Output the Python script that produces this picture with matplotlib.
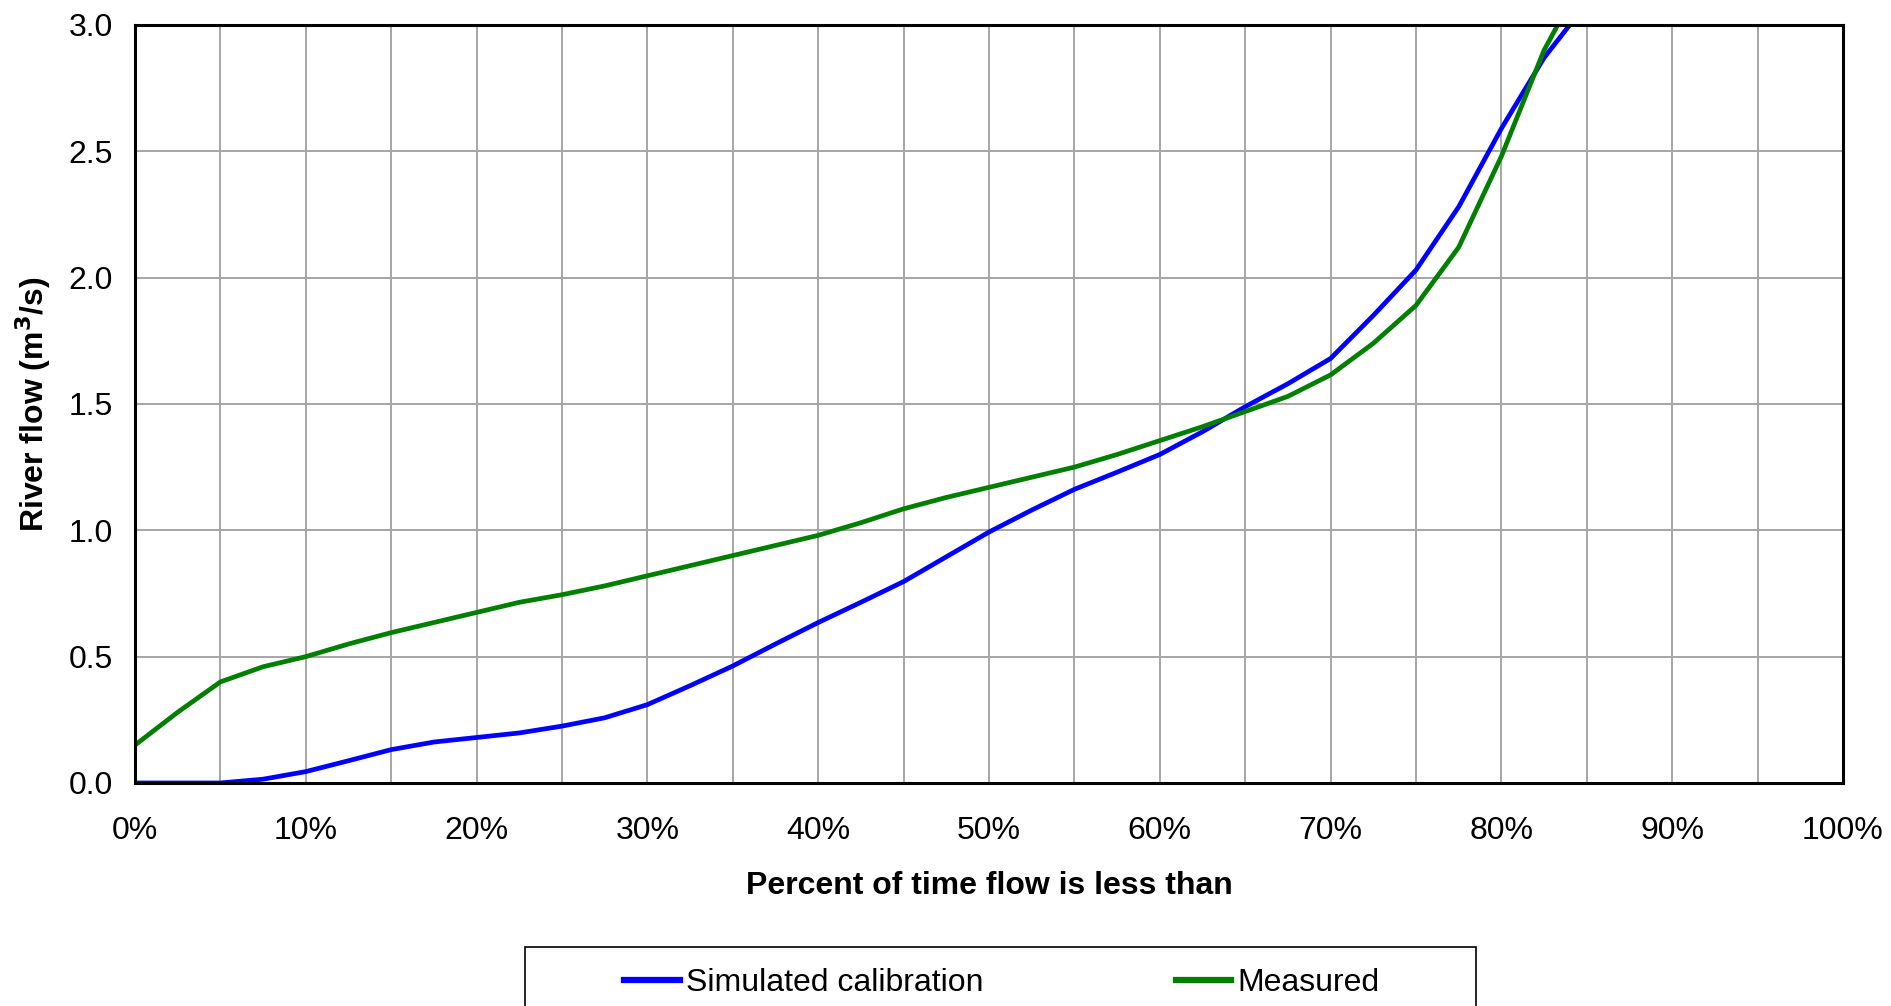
import matplotlib.pyplot as plt
from matplotlib.patches import Rectangle
from matplotlib.ticker import MultipleLocator, FuncFormatter

plt.rcParams['font.family'] = ['Liberation Sans', 'DejaVu Sans']

# flow duration curves (percent of time, river flow m3/s)
pct = [0, 2.5, 5, 7.5, 10, 12.5, 15, 17.5, 20, 22.5, 25, 27.5, 30, 32.5, 35, 37.5, 40,
       42.5, 45, 47.5, 50, 52.5, 55, 57.5, 60, 62.5, 65, 67.5, 70, 72.5, 75, 77.5, 80, 82.5]
sim = [0, 0, 0, 0.015, 0.045, 0.088, 0.132, 0.162, 0.18, 0.198, 0.225, 0.258, 0.31, 0.385,
       0.463, 0.55, 0.635, 0.715, 0.797, 0.895, 0.993, 1.08, 1.162, 1.23, 1.30, 1.39, 1.489,
       1.58, 1.68, 1.85, 2.03, 2.28, 2.59, 2.87]
meas = [0.15, 0.28, 0.40, 0.46, 0.50, 0.55, 0.595, 0.635, 0.675, 0.715, 0.745, 0.78, 0.82,
        0.86, 0.90, 0.94, 0.98, 1.03, 1.085, 1.13, 1.17, 1.21, 1.25, 1.30, 1.355, 1.41, 1.47,
        1.53, 1.615, 1.74, 1.89, 2.12, 2.48, 2.90]
# tails running off the top of the chart
sim_tail_x = [84, 85]
sim_tail_y = [3.0, 3.15]
meas_tail_x = [83.3, 84]
meas_tail_y = [3.0, 3.12]

fig = plt.figure(figsize=(18.91, 10.06), dpi=100)
ax = fig.add_axes([0.0714, 0.2217, 0.9032, 0.7535])

l1, = ax.plot(pct + sim_tail_x, sim + sim_tail_y, color='#0000ff', lw=3.4,
              label='Simulated calibration')
l2, = ax.plot(pct + meas_tail_x, meas + meas_tail_y, color='#007f00', lw=3.4,
              label='Measured')

ax.set_xlim(0, 100)
ax.set_ylim(0, 3.0)
ax.xaxis.set_major_locator(MultipleLocator(10))
ax.xaxis.set_minor_locator(MultipleLocator(5))
ax.yaxis.set_major_locator(MultipleLocator(0.5))
ax.xaxis.set_major_formatter(FuncFormatter(lambda v, p: '%d%%' % v))
ax.yaxis.set_major_formatter(FuncFormatter(lambda v, p: '%.1f' % v))
ax.grid(which='both', color='#a6a6a6', lw=1.4)
ax.set_axisbelow(True)
for s in ax.spines.values():
    s.set_linewidth(2.2)
ax.tick_params(which='both', length=0)
ax.tick_params(axis='x', labelsize=23, pad=24)
ax.tick_params(axis='y', labelsize=23, pad=16)

ax.set_xlabel('Percent of time flow is less than', fontsize=23, fontweight='bold', labelpad=18)
ax.set_ylabel('River flow (m$^\\mathbf{3}$/s)', fontsize=23, fontweight='bold', labelpad=11)

# legend box, cut off by the bottom of the figure
fig.patches.append(Rectangle((525 / 1891, -0.02), 951 / 1891, 0.0786,
                             transform=fig.transFigure, fill=False, ec='black', lw=1.2))
leg = fig.legend(handles=[l1, l2], loc='center', bbox_to_anchor=(1002 / 1891, 1 - 983 / 1006),
                 ncol=2, frameon=False, fontsize=23, handlelength=1.75, handletextpad=0.2,
                 columnspacing=6.0)
for h in leg.legend_handles:
    h.set_linewidth(4.5)

fig.savefig('out.png', dpi=100)
